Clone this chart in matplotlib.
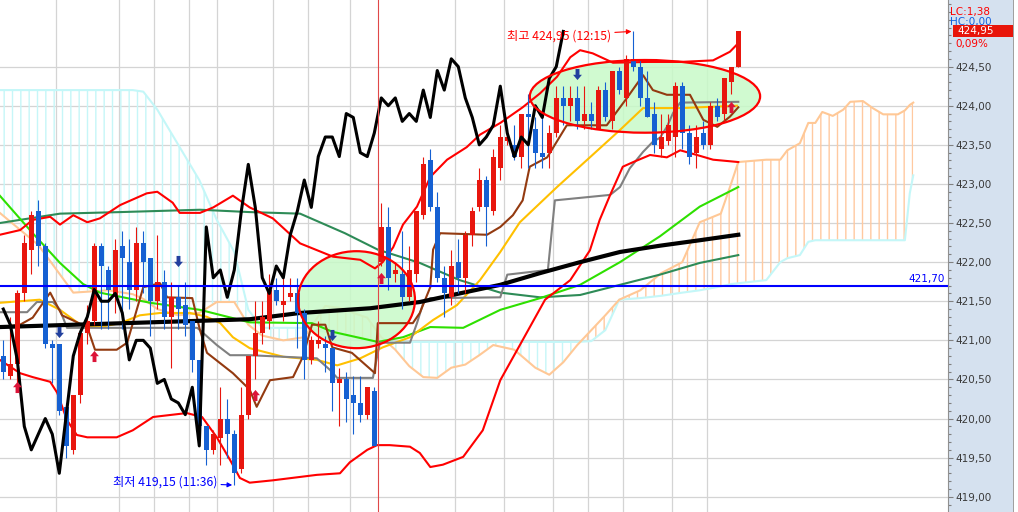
import numpy as np
import matplotlib
matplotlib.use("Agg")
import matplotlib.pyplot as plt
import matplotlib.transforms as mtransforms
from matplotlib.patches import Ellipse, Rectangle
from matplotlib.path import Path
from matplotlib.ticker import FixedLocator, FuncFormatter

plt.rcParams['font.family'] = ['DejaVu Sans']
plt.rcParams['hatch.linewidth'] = 1.0
KR = ['Noto Sans CJK KR', 'DejaVu Sans']

# ---- candles (one bar per index) ----
opens = [420.80, 420.55, 420.70, 421.60, 422.15, 422.65, 422.20, 420.95, 420.95, 420.15,
         419.60, 420.30, 421.10, 421.25, 422.20, 421.90, 421.55, 422.20, 422.00, 421.65,
         422.25, 422.05, 421.50, 421.75, 421.30, 421.55, 421.45, 421.25, 420.75, 419.90,
         419.60, 419.75, 420.00, 419.80, 419.35, 420.05, 420.80, 421.10, 421.25, 421.65,
         421.45, 421.55, 421.60, 421.35, 420.75, 420.95, 420.95, 420.90, 420.45, 420.50,
         420.30, 420.20, 420.05, 420.35, 422.00, 422.45, 421.85, 421.85, 421.55, 421.85,
         422.60, 423.30, 422.70, 421.80, 421.55, 422.00, 421.80, 422.35, 422.70, 423.05,
         422.65, 423.20, 423.55, 423.50, 423.35, 423.90, 423.70, 423.40, 423.40, 423.65,
         424.10, 424.00, 424.10, 423.80, 423.90, 423.70, 424.20, 423.80, 424.45, 424.10,
         424.60, 424.50, 424.10, 423.90, 423.45, 423.55, 423.60, 424.25, 423.65, 423.40,
         423.65, 423.50, 424.00, 423.90, 424.30, 424.50]
highs = [421.00, 421.30, 421.65, 422.35, 422.65, 422.80, 422.25, 421.00, 420.95, 420.20,
         420.30, 421.15, 421.45, 422.25, 422.25, 421.95, 422.30, 422.40, 422.30, 422.45,
         422.40, 422.05, 422.35, 421.90, 421.75, 421.70, 421.75, 421.25, 420.75, 419.90,
         419.85, 420.40, 420.25, 419.85, 420.40, 420.80, 421.50, 421.50, 421.85, 421.80,
         421.85, 421.80, 421.80, 421.40, 421.05, 421.25, 421.05, 420.90, 420.65, 420.60,
         420.55, 420.55, 420.40, 420.40, 422.75, 422.70, 422.00, 422.40, 422.20, 422.65,
         423.35, 423.45, 422.90, 421.95, 422.15, 422.30, 422.40, 422.70, 423.20, 423.10,
         423.45, 423.75, 423.70, 423.75, 423.90, 424.15, 423.85, 423.95, 423.75, 424.25,
         424.25, 424.25, 424.25, 424.25, 424.05, 424.25, 424.30, 424.45, 424.50, 424.65,
         424.95, 424.60, 424.45, 424.05, 423.90, 423.90, 424.30, 424.30, 423.75, 423.75,
         423.80, 424.05, 424.10, 424.35, 424.50, 424.95]
lows = [420.50, 420.50, 420.45, 421.50, 421.85, 421.95, 420.90, 420.45, 420.05, 419.50,
        419.55, 420.20, 420.95, 421.20, 421.15, 421.15, 421.35, 421.15, 421.40, 421.50,
        421.60, 421.05, 421.40, 421.15, 420.65, 421.15, 421.05, 420.60, 419.90, 419.40,
        419.55, 419.40, 419.50, 419.15, 419.30, 420.00, 420.50, 420.95, 421.15, 421.45,
        421.25, 421.50, 420.90, 420.50, 420.70, 420.90, 420.60, 420.10, 419.90, 419.95,
        419.80, 419.95, 420.00, 419.65, 421.95, 421.65, 421.75, 421.40, 421.50, 421.75,
        422.55, 422.65, 421.75, 421.30, 421.45, 421.60, 421.60, 422.20, 422.65, 422.20,
        422.60, 423.05, 423.50, 423.30, 423.20, 423.20, 423.20, 423.20, 423.20, 423.60,
        423.75, 423.80, 423.70, 423.70, 423.70, 423.70, 423.80, 423.70, 424.15, 424.00,
        424.45, 424.00, 423.85, 423.40, 423.35, 423.50, 423.35, 423.45, 423.25, 423.20,
        423.45, 423.45, 423.80, 423.80, 424.15, 424.50]
closes = [420.60, 420.70, 421.60, 422.25, 422.60, 422.20, 420.95, 420.90, 420.10, 419.65,
          420.30, 421.10, 421.25, 422.20, 421.95, 421.65, 422.15, 422.05, 421.65, 422.25,
          422.00, 421.50, 421.75, 421.30, 421.55, 421.40, 421.20, 420.75, 419.90, 419.60,
          419.80, 420.00, 419.80, 419.30, 420.05, 420.80, 421.10, 421.30, 421.65, 421.50,
          421.50, 421.60, 421.35, 420.75, 421.00, 421.00, 420.90, 420.45, 420.50, 420.25,
          420.20, 420.05, 420.40, 419.65, 422.45, 421.80, 421.90, 421.55, 421.90, 422.65,
          423.25, 422.70, 421.80, 421.60, 421.95, 421.80, 422.35, 422.65, 423.05, 422.70,
          423.35, 423.60, 423.60, 423.35, 423.90, 423.85, 423.40, 423.35, 423.65, 424.10,
          424.00, 424.10, 423.80, 423.90, 423.80, 424.20, 423.85, 424.45, 424.20, 424.60,
          424.50, 424.10, 423.85, 423.50, 423.60, 423.75, 424.25, 423.65, 423.35, 423.60,
          423.50, 424.00, 423.85, 424.35, 424.50, 424.95]
chikou_shift = 25

# ---- moving averages / bands (bar index, price) ----
ma_long_idx = [-0.5, 13.8, 28.1, 35.2, 42.4, 52.4, 59.5, 65.2, 71.0, 76.7, 82.4, 88.1, 93.8, 99.5, 105.0]
ma_long = [421.17, 421.21, 421.25, 421.27, 421.35, 421.41, 421.49, 421.60, 421.71, 421.86,
           422.00, 422.13, 422.21, 422.28, 422.35]

ma_60_idx = [-0.5, 3.8, 8.1, 16.7, 28.1, 35.2, 42.4, 48.8, 53.5, 59.5, 65.2, 71.0, 76.7, 82.4,
             88.1, 93.8, 99.5, 105.0]
ma_60 = [422.50, 422.56, 422.62, 422.64, 422.67, 422.64, 422.62, 422.37, 422.16, 421.99, 421.77,
         421.61, 421.55, 421.58, 421.71, 421.84, 421.99, 422.09]

ma_20_idx = [-0.5, 4.2, 8.1, 11.4, 13.8, 21.0, 28.1, 35.2, 44.1, 47.0, 53.5, 57.1, 61.0, 65.7,
             71.0, 76.7, 82.4, 88.1, 93.8, 99.5, 105.0]
ma_20 = [422.85, 422.37, 421.99, 421.72, 421.61, 421.48, 421.39, 421.23, 421.22, 421.11, 420.98,
         421.04, 421.17, 421.16, 421.39, 421.54, 421.71, 422.00, 422.33, 422.71, 422.96]

ma_10_idx = [-0.5, 5.2, 8.1, 11.0, 13.8, 16.7, 19.5, 22.4, 26.7, 29.1, 31.0, 32.8, 35.2, 40.0,
             44.8, 47.7, 51.0, 54.2, 58.1, 61.4, 64.8, 68.1, 71.0, 73.8, 79.1, 83.8, 88.1, 91.4,
             96.7, 104.8]
ma_10 = [421.48, 421.52, 421.39, 421.20, 421.17, 421.22, 421.32, 421.35, 421.35, 421.30, 421.22,
         421.04, 420.90, 420.79, 420.75, 420.68, 420.77, 420.91, 421.04, 421.26, 421.45, 421.77,
         422.13, 422.51, 422.96, 423.34, 423.69, 423.97, 423.97, 424.00]

bb_up_idx = [-0.5, 2.4, 4.2, 6.7, 8.1, 10.0, 12.0, 13.8, 16.7, 20.5,
             22.0, 24.2, 25.2, 28.1, 30.0, 32.8, 35.2, 38.5, 42.4, 47.1,
             51.0, 53.1, 54.2, 55.7, 57.1, 59.1, 61.0, 63.4, 66.2, 68.1,
             71.0, 74.2, 76.7, 79.1, 81.0, 82.4, 84.2, 87.1, 92.0, 96.7,
             101.4, 103.8, 105.0]
bb_up = [422.35, 422.41, 422.54, 422.58, 422.48, 422.60, 422.51, 422.56, 422.73, 422.88,
         422.90, 422.76, 422.63, 422.63, 422.70, 422.85, 422.70, 422.56, 422.24, 422.07,
         422.03, 421.92, 422.00, 422.19, 422.48, 422.71, 423.09, 423.31, 423.47, 423.63,
         423.78, 423.98, 424.16, 424.37, 424.62, 424.71, 424.67, 424.55, 424.56, 424.56,
         424.58, 424.69, 424.80]

bb_lo_idx = [-0.5, 2.4, 4.2, 6.7, 7.7, 9.1, 10.5, 12.0, 16.2, 18.5,
             21.4, 26.2, 28.4, 30.5, 32.4, 33.8, 35.2, 38.5, 44.8, 48.1,
             49.5, 52.0, 53.4, 55.2, 58.1, 59.5, 61.0, 62.8, 65.7, 68.5,
             71.0, 73.8, 77.4, 81.0, 83.8, 85.2, 86.7, 88.5, 90.0, 92.4,
             94.8, 96.7, 99.1, 101.4, 105.0]
bb_lo = [420.75, 420.58, 420.53, 420.47, 420.33, 419.98, 419.79, 419.76, 419.76, 419.85,
         420.02, 420.07, 420.02, 419.76, 419.47, 419.24, 419.18, 419.21, 419.28, 419.30,
         419.44, 419.60, 419.66, 419.66, 419.64, 419.56, 419.38, 419.41, 419.51, 419.85,
         420.49, 420.94, 421.52, 421.77, 422.15, 422.54, 422.86, 423.22, 423.28, 423.37,
         423.34, 423.43, 423.37, 423.31, 423.28]

# ---- ichimoku ----
tenkan_idx = [-0.5, 2.4, 4.2, 6.7, 8.4, 12.0, 13.1, 16.2, 17.7, 20.0,
              22.4, 23.4, 27.0, 28.1, 29.1, 32.8, 35.2, 36.2, 38.1, 41.4,
              42.8, 44.1, 46.0, 47.0, 49.8, 53.1, 53.5, 58.5, 59.5, 61.0,
              61.4, 62.4, 69.1, 71.0, 72.8, 74.2, 75.2, 77.7, 80.5, 86.2,
              89.1, 91.4, 92.8, 94.8, 98.1, 100.0, 102.0, 103.8, 105.0]
tenkan = [421.17, 421.20, 421.29, 421.61, 421.32, 421.17, 420.88, 420.88, 420.97, 421.68,
          421.73, 421.55, 421.54, 421.13, 420.84, 420.58, 420.37, 420.15, 420.49, 420.53,
          420.79, 421.20, 421.20, 420.91, 420.84, 420.58, 421.22, 421.22, 421.35, 421.68,
          422.16, 422.37, 422.35, 422.45, 422.60, 422.79, 423.22, 423.34, 423.75, 423.75,
          424.10, 424.39, 424.20, 424.14, 424.14, 423.82, 423.73, 423.86, 423.98]

kijun_idx = [-0.5, 3.4, 4.8, 7.1, 8.1, 9.1, 27.7, 28.1, 30.5, 32.4,
             35.2, 44.8, 46.7, 47.7, 52.8, 53.8, 58.1, 59.1, 60.0, 61.0,
             71.0, 72.0, 77.8, 78.8, 86.7, 88.1, 89.5, 91.4, 92.8, 93.8,
             94.8, 95.7, 96.7, 105.0]
kijun = [421.36, 421.36, 421.49, 421.49, 421.39, 421.16, 421.16, 421.13, 420.94, 420.81,
         420.81, 420.77, 420.62, 420.52, 420.52, 420.97, 420.97, 421.22, 421.48, 421.54,
         421.55, 421.84, 421.90, 422.79, 422.86, 422.96, 423.20, 423.41, 423.54, 423.59,
         423.73, 423.91, 424.04, 424.05]

cloud_idx = [-0.5, 5, 10, 15, 18.5, 20, 22, 25, 28, 30.5,
             33, 35, 37, 40, 43, 46, 48.5, 50, 52, 54,
             56, 58, 60, 62, 64, 66, 68, 70, 73, 76,
             78, 80, 82, 84, 86, 88, 91, 94, 97, 99.5,
             102.5, 104, 105, 109, 111, 112, 113.8, 115, 116, 117,
             118.5, 120, 121, 122.8, 124.2, 125.7, 127.8, 128.8, 129.5, 130]
span_a = [422.63, 422.22, 421.61, 421.64, 421.59, 421.53, 421.40, 421.32, 421.35, 421.49,
          421.49, 421.20, 421.06, 421.00, 421.04, 421.44, 421.41, 421.35, 421.29, 421.04,
          420.88, 420.67, 420.53, 420.52, 420.65, 420.69, 420.81, 420.94, 420.88, 420.65,
          420.56, 420.72, 420.94, 421.13, 421.32, 421.52, 421.64, 421.86, 422.00, 422.51,
          422.62, 423.01, 423.28, 423.31, 423.31, 423.43, 423.52, 423.78, 423.78, 423.92,
          423.87, 423.95, 424.05, 424.06, 423.97, 423.89, 423.89, 423.94, 424.01, 424.04]
span_b = [424.20, 424.20, 424.20, 424.20, 424.20, 424.18, 423.95, 423.50, 423.05, 422.54,
          422.13, 421.39, 421.16, 421.16, 421.16, 421.11, 421.07, 421.04, 421.00, 420.98,
          420.98, 420.98, 420.98, 420.98, 420.98, 420.98, 420.98, 420.98, 420.98, 420.98,
          420.98, 420.98, 420.98, 420.99, 421.13, 421.52, 421.54, 421.57, 421.61, 421.64,
          421.69, 421.72, 421.73, 421.77, 422.00, 422.05, 422.09, 422.26, 422.28, 422.28,
          422.28, 422.28, 422.28, 422.28, 422.28, 422.28, 422.28, 422.28, 422.88, 423.11]

# ---- signals, reference level, time grid ----
buy_idx = [2, 13, 36, 54, 104]
buy_px = [420.40, 420.80, 420.30, 421.80, 423.99]
sell_idx = [8, 25, 47, 82]
sell_px = [421.11, 422.01, 421.07, 424.41]
level = 421.70
grid_idx = [7.5, 16.5, 21.5, 26.5, 30.5, 38.5, 43.5, 49.5, 64.5, 71.5, 78.5, 83.5, 88.5, 95.5, 100.5]
cursor_idx = 53.5
hi_time, lo_time = "12:15", "11:36"
lc_text, hc_text, chg_text = "LC:1,38", "HC:0,00", "0,09%"


def kr(v):
    return f"{v:.2f}".replace(".", ",")


W, H = 1018, 512
fig = plt.figure(figsize=(W / 100, H / 100), dpi=100)
ax = fig.add_axes([0, 0, 948 / W, 1])
ax.set_xlim(-0.47, 134.96)
ax.set_ylim(418.805, 425.352)

# right price panel
fig.add_artist(Rectangle((948 / W, 0), 65 / W, 1, transform=fig.transFigure,
                         facecolor='#d5e1ef', edgecolor='none', zorder=-1))
fig.add_artist(Rectangle((1013 / W, 0), 1 / W, 1, transform=fig.transFigure,
                         facecolor='#a0a0a0', edgecolor='none', zorder=-1))

for s in ['left', 'top', 'bottom']:
    ax.spines[s].set_visible(False)
ax.spines['right'].set_color('#909090')
ax.yaxis.tick_right()
ax.yaxis.set_major_locator(FixedLocator(np.arange(419.0, 424.51, 0.5)))
ax.yaxis.set_minor_locator(FixedLocator(np.arange(418.9, 425.35, 0.1)))
ax.yaxis.set_major_formatter(FuncFormatter(lambda v, p: kr(v)))
ax.tick_params(axis='y', which='major', length=3.5, width=0.8, color='#808080',
               labelsize=7.5, labelcolor='#3a3a3a', pad=2)
ax.tick_params(axis='y', which='minor', length=2, width=0.8, color='#808080')
ax.set_xticks([])
ax.grid(axis='y', color='#d4d4d4', lw=0.9, zorder=0)
ax.set_axisbelow(True)
for g in grid_idx:
    ax.axvline(g, color='#d4d4d4', lw=0.9, zorder=0)

# cloud
ci = np.array(cloud_idx)
sa = np.array(span_a)
sb = np.array(span_b)
ax.fill_between(ci, sa, sb, where=sa >= sb, interpolate=True, facecolor='none',
                edgecolor='#ffc9a0', hatch='||', lw=0, zorder=1)
ax.fill_between(ci, sa, sb, where=sa < sb, interpolate=True, facecolor='none',
                edgecolor='#c6f6f8', hatch='||', lw=0, zorder=1)
ax.plot(ci, sb, color='#c4f7f8', lw=1.5, zorder=1.2)
ax.plot(ci, sa, color='#ffc896', lw=1.5, zorder=1.2)

# highlight ellipses (fill)
ell = [((50.46, 421.52), 16.7, 1.24), ((91.67, 424.12), 32.9, 0.93)]
for cc, w, h in ell:
    ax.add_patch(Ellipse(cc, w, h, facecolor='#c8fac8', edgecolor='none', alpha=0.85, zorder=1.5))

# indicator lines
ax.plot(ma_60_idx, ma_60, color='#2e8b57', lw=1.5, zorder=2)
ax.plot(ma_20_idx, ma_20, color='#2ee000', lw=1.5, zorder=2)
ax.plot(ma_10_idx, ma_10, color='#ffc000', lw=1.5, zorder=2)
ax.plot(kijun_idx, kijun, color='#808080', lw=1.5, zorder=2)
ax.plot(tenkan_idx, tenkan, color='#933a10', lw=1.5, zorder=2)
ax.plot(bb_up_idx, bb_up, color='#ff0000', lw=1.5, zorder=2)
ax.plot(bb_lo_idx, bb_lo, color='#ff0000', lw=1.5, zorder=2)
ax.plot(ma_long_idx, ma_long, color='#000000', lw=3, zorder=2.2)

# candles
o = np.array(opens)
hh = np.array(highs)
ll = np.array(lows)
c = np.array(closes)
x = np.arange(len(c))
up = c >= o
cols = np.where(up, '#e8160e', '#1560d2')
ax.vlines(x, ll, hh, colors=cols, lw=0.8, zorder=3)
body = np.maximum(np.abs(c - o), 0.013)
ax.bar(x, body, bottom=np.minimum(o, c), width=0.72, color=cols, lw=0, zorder=3.1)

# lagging span
ax.plot(x[chikou_shift:] - chikou_shift, c[chikou_shift:], color='#000000', lw=2.2, zorder=3.5)

# level line and cursor
ax.axhline(level, color='#0000ff', lw=1.5, zorder=4)
ax.axvline(cursor_idx, color='#e04848', lw=0.8, zorder=4)
ax.annotate(kr(level), xy=(1, level), xycoords=mtransforms.blended_transform_factory(ax.transAxes, ax.transData),
            xytext=(-2, 1.5), textcoords='offset points', ha='right', va='bottom',
            color='#0000ff', fontsize=7.5, zorder=6)

# signal arrows
up_arrow = Path([(0, 1), (0.8, 0.05), (0.35, 0.05), (0.35, -1), (-0.35, -1), (-0.35, 0.05),
                 (-0.8, 0.05), (0, 1)], closed=True)
dn_arrow = Path([(0, -1), (0.8, -0.05), (0.35, -0.05), (0.35, 1), (-0.35, 1), (-0.35, -0.05),
                 (-0.8, -0.05), (0, -1)], closed=True)
ax.plot(buy_idx, buy_px, ls='none', marker=up_arrow, ms=8, color='#dc1438', mew=0, zorder=4.5)
ax.plot(sell_idx, sell_px, ls='none', marker=dn_arrow, ms=8, color='#22409e', mew=0, zorder=4.5)

# ellipse outlines
for cc, w, h in ell:
    ax.add_patch(Ellipse(cc, w, h, facecolor='none', edgecolor='#ff0000', lw=1.6, zorder=5))

# high / low annotations
hi_i = int(np.argmax(hh))
lo_i = int(np.argmin(ll))
ax.annotate(f"최고 {kr(hh[hi_i])} ({hi_time})", xy=(hi_i - 0.25, hh[hi_i]), xytext=(-15, -3),
            textcoords='offset points', ha='right', va='center', color='#ff0000', fontsize=8.8,
            family=KR, arrowprops=dict(arrowstyle='-|>', color='#ff0000', lw=0.8,
                                       mutation_scale=7, shrinkA=1, shrinkB=0), zorder=6)
ax.annotate(f"최저 {kr(ll[lo_i])} ({lo_time})", xy=(lo_i - 0.3, ll[lo_i]), xytext=(-11, 2),
            textcoords='offset points', ha='right', va='center', color='#0000ff', fontsize=8.8,
            family=KR, arrowprops=dict(arrowstyle='-|>', color='#0000ff', lw=0.8,
                                       mutation_scale=7, shrinkA=1, shrinkB=0), zorder=6)

# top-right status texts
fig.text(950 / W, 1 - 12 / H, lc_text, color='#ff0000', fontsize=7.5, va='center', zorder=3)
fig.text(950 / W, 1 - 22.5 / H, hc_text, color='#1060e0', fontsize=7.5, va='center', zorder=1)
pt = mtransforms.blended_transform_factory(fig.transFigure, ax.transData)
box_h = 12 / 78.2
fig.add_artist(Rectangle((953 / W, c[-1] - box_h / 2), 60 / W, box_h, transform=pt,
                         facecolor='#e8150a', edgecolor='none', zorder=2))
fig.text(957 / W, c[-1], kr(c[-1]), transform=pt, color='white', fontsize=7.5, va='center', zorder=3)
fig.text(955 / W, 1 - 44 / H, chg_text, color='#ff0000', fontsize=7.5, va='center', zorder=3)

fig.savefig("out.png", dpi=100, facecolor='white')
